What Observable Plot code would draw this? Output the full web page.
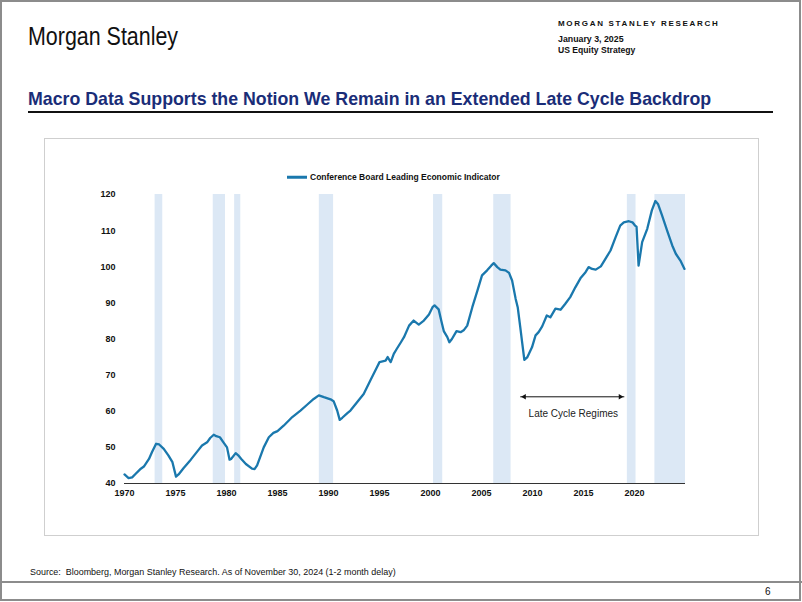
<!DOCTYPE html>
<html><head><meta charset="utf-8">
<script src="https://cdn.jsdelivr.net/npm/d3@7"></script>
<script src="https://cdn.jsdelivr.net/npm/@observablehq/plot@0.6"></script>
<style>
body{margin:0;background:#fff;font-family:"Liberation Sans",Arial,sans-serif;}
#page{position:relative;width:802px;height:602px;overflow:hidden;background:#fff;}
.abs{position:absolute;white-space:nowrap;line-height:1;}
.c{transform:translateY(-50%);}
</style></head><body>
<div id="page">
  <div class="abs" style="left:0;top:0;width:801px;height:601px;box-sizing:border-box;border:2px solid #8c8c8c;"></div>
  <div class="abs" id="logo" style="left:28px;top:35.5px;font-family:'Liberation Sans',Arial;font-size:25px;color:#111;transform-origin:0 50%;">Morgan Stanley</div>
  <div class="abs c" style="left:558px;top:24px;font-size:8px;font-weight:bold;letter-spacing:1.7px;color:#111;">MORGAN STANLEY RESEARCH</div>
  <div class="abs c" style="left:558px;top:39px;font-size:8.8px;font-weight:bold;color:#111;">January 3, 2025</div>
  <div class="abs c" style="left:558px;top:49.5px;font-size:8.6px;font-weight:bold;color:#111;">US Equity Strategy</div>
  <div class="abs c" id="title" style="left:28px;top:100px;font-size:18px;font-weight:bold;color:#1a2d78;">Macro Data Supports the Notion We Remain in an Extended Late Cycle Backdrop</div>
  <div class="abs" style="left:28px;top:111px;width:745px;height:2px;background:#111;"></div>
  <div class="abs" style="left:44px;top:138px;width:715px;height:398px;box-sizing:border-box;border:1px solid #cfcfcf;"></div>
  <div class="abs" id="chart" style="left:44px;top:138px;"></div>
  <div class="abs c" style="left:287px;top:177px;display:flex;align-items:center;">
    <span style="display:inline-block;width:20px;height:2.5px;background:#1a78ad;margin-right:3px;"></span>
    <span id="legtext" style="font-size:9px;font-weight:bold;color:#111;">Conference Board Leading Economic Indicator</span>
  </div>
  <div class="abs c" id="source" style="left:30px;top:572px;font-size:9px;color:#111;">Source:&nbsp; Bloomberg, Morgan Stanley Research. As of November 30, 2024 (1-2 month delay)</div>
  <div class="abs" style="left:0;top:581px;width:802px;height:2px;background:#8c8c8c;"></div>
  <div class="abs c" style="left:765px;top:592px;font-size:10px;color:#111;">6</div>
</div>
<script>
// Conference Board Leading Economic Indicator
const years = [1970.0,1970.4,1970.75,1971.1,1971.6,1971.9,1972.4,1972.7,1973.1,1973.4,1973.85,1974.3,1974.7,1975.05,1975.3,1975.8,1976.5,1977.2,1977.6,1978.1,1978.4,1978.75,1979.0,1979.35,1979.7,1980.05,1980.3,1980.45,1980.9,1981.15,1981.45,1981.9,1982.5,1982.75,1983.0,1983.65,1984.15,1984.6,1985.0,1985.6,1986.45,1987.25,1987.9,1988.55,1989.05,1989.55,1990.2,1990.5,1990.85,1991.1,1991.35,1991.85,1992.15,1992.8,1993.45,1994.1,1994.75,1995.0,1995.6,1995.8,1996.1,1996.4,1996.7,1997.1,1997.4,1997.9,1998.35,1998.85,1999.35,1999.85,2000.2,2000.4,2000.8,2001.05,2001.3,2001.65,2001.85,2002.1,2002.55,2002.95,2003.25,2003.6,2004.1,2004.6,2005.05,2005.55,2005.95,2006.2,2006.55,2006.85,2007.35,2007.7,2008.0,2008.35,2008.55,2008.8,2009.0,2009.2,2009.5,2009.95,2010.3,2010.6,2010.95,2011.4,2011.75,2012.25,2012.75,2013.2,2013.7,2014.2,2014.7,2015.2,2015.5,2015.85,2016.2,2016.7,2017.15,2017.65,2018.15,2018.6,2018.95,2019.45,2019.8,2020.05,2020.2,2020.4,2020.75,2021.25,2021.7,2022.05,2022.3,2022.7,2023.2,2023.7,2024.05,2024.5,2024.9];
const values = [42.5,41.5,41.7,42.7,44.1,44.7,46.8,48.7,51.0,50.8,49.6,47.8,45.9,41.9,42.5,44.3,46.6,49.1,50.5,51.4,52.6,53.5,53.1,52.8,51.4,50.0,46.6,46.8,48.4,47.8,46.8,45.4,44.1,44.0,45.0,50.0,52.8,54.0,54.5,56.0,58.4,60.2,61.8,63.4,64.4,63.9,63.3,62.8,60.2,57.6,58.2,59.5,60.2,62.5,64.8,68.5,72.2,73.6,74.0,75.0,73.6,75.9,77.3,79.1,80.5,83.7,85.1,84.0,85.1,86.8,88.8,89.3,88.2,85.1,82.2,80.5,79.1,80.0,82.2,81.9,82.4,83.7,88.8,93.4,97.6,99.0,100.3,101.0,99.9,99.2,99.0,98.3,96.2,91.1,88.8,83.3,78.7,74.2,75.0,77.7,81.0,81.9,83.5,86.5,86.0,88.4,88.1,89.7,91.6,94.3,96.8,98.5,99.9,99.4,99.2,100.1,102.2,104.5,108.2,111.4,112.3,112.6,112.3,111.4,111.1,100.3,106.8,110.5,115.6,118.2,117.4,114.2,110.0,105.9,103.6,101.7,99.4];

// Late cycle regime shading (start / end years)
const bandStart = [1973.0,1978.7,1980.8,1989.1,2000.3,2006.2,2019.3,2022.0];
const bandEnd   = [1973.75,1979.9,1981.4,1990.5,2001.2,2007.9,2020.15,2025.0];

// Axis ticks
const xTicks = [1970,1975,1980,1985,1990,1995,2000,2005,2010,2015,2020];
const yTicks = [40,50,60,70,80,90,100,110,120];
const xDomain = [1970, 2025];
const yDomain = [40, 120];

// Annotation
const arrowFrom = 2008.8, arrowTo = 2019.0, arrowY = 64;
const annoLabel = "Late Cycle Regimes", annoX = 2014.0, annoY = 59.4;

const series = years.map((y, i) => ({year: y, value: values[i]}));
const bands = bandStart.map((s, i) => ({x1: s, x2: bandEnd[i]}));
const arrow = [{x1: arrowFrom, x2: arrowTo, y: arrowY}];

const lineColor = "#1a78ad";
const chart = Plot.plot({
  width: 715, height: 398,
  marginLeft: 80, marginRight: 74, marginTop: 56, marginBottom: 53,
  style: {fontFamily: "'Liberation Sans', Arial, sans-serif", fontSize: "9px", fontWeight: "bold", color: "#111", background: "transparent"},
  x: {domain: xDomain, ticks: xTicks, tickFormat: d => String(d), tickSize: 0, tickPadding: 6, label: null},
  y: {domain: yDomain, ticks: yTicks, tickSize: 0, tickPadding: 9, label: null},
  marks: [
    Plot.rect(bands, {x1: "x1", x2: "x2", y1: yDomain[0], y2: yDomain[1], fill: "#dce8f5"}),
    Plot.ruleY([yDomain[0]], {stroke: "#333", strokeWidth: 1.2}),
    Plot.line(series, {x: "year", y: "value", stroke: lineColor, strokeWidth: 2.3, strokeLinejoin: "round"}),
    Plot.link(arrow, {x1: "x1", x2: "x2", y1: "y", y2: "y", stroke: "#111", strokeWidth: 1}),
    Plot.dot(arrow, {x: "x1", y: "y", symbol: "triangle2", rotate: -90, r: 2.6, fill: "#111", dx: 4}),
    Plot.dot(arrow, {x: "x2", y: "y", symbol: "triangle2", rotate: 90, r: 2.6, fill: "#111", dx: -4}),
    Plot.text([{x: annoX, y: annoY}], {x: "x", y: "y", text: () => annoLabel, fontSize: 10, fontWeight: "normal", fill: "#222"})
  ]
});
chart.style.display = "block";
document.getElementById("chart").appendChild(chart);

function fit(id, w) {
  const el = document.getElementById(id);
  const r = el.getBoundingClientRect().width;
  const fs = parseFloat(getComputedStyle(el).fontSize);
  el.style.fontSize = (fs * w / r).toFixed(2) + "px";
}
function fitX(id, w) {
  const el = document.getElementById(id);
  const r = el.getBoundingClientRect().width;
  el.style.transform = "translateY(-50%) scaleX(" + (w / r).toFixed(3) + ")";
}
fit("title", 683);
fitX("logo", 150);
fit("legtext", 190);
fit("source", 366);
</script>
</body></html>
